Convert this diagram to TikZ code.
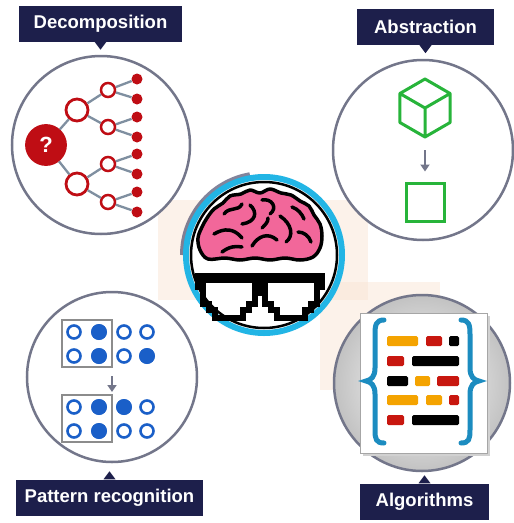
\documentclass[tikz,border=0pt]{standalone}
\usepackage{fontspec}
\setmainfont{Liberation Sans}
\usetikzlibrary{positioning,shapes,arrows.meta,calc}
\usepackage{xcolor}

\definecolor{navy}{HTML}{1D1F4B}
\definecolor{ringgray}{HTML}{73768A}
\definecolor{treeline}{HTML}{7F8FA0}
\definecolor{dred}{HTML}{BF0D14}
\definecolor{leafgreen}{HTML}{27B43A}
\definecolor{pblue}{HTML}{1A5FC8}
\definecolor{cyanring}{HTML}{22B5E5}
\definecolor{pinkbrain}{HTML}{F2679A}
\definecolor{orangebar}{HTML}{F4A300}
\definecolor{redbar}{HTML}{C8170F}
\definecolor{bracebl}{HTML}{1C8CC0}
\definecolor{peach}{HTML}{F9E3D2}

\tikzset{
	topic/.style={circle, draw=ringgray, line width=2.5pt, fill=white, inner sep=0pt},
	tag/.style={fill=navy, text=white, inner sep=0pt, minimum height=36pt,
		font=\bfseries\fontsize{18.5}{20}\selectfont},
	opendot/.style={circle, draw=pblue, line width=2.6pt, fill=white, inner sep=0pt, minimum size=13pt},
	fulldot/.style={circle, fill=pblue, inner sep=0pt, minimum size=16pt},
	bar/.style={rounded corners=1.5pt},
}

\begin{document}
\begin{tikzpicture}[x=1pt, y=-1pt]
		\useasboundingbox (0,0) rectangle (514,523);
		\fill[white] (0,0) rectangle (514,523);
		
		% faint bands behind the middle
		\fill[peach, opacity=.45] (158,200) rectangle (368,300);
		\fill[peach, opacity=.45] (320,282) rectangle (440,390);
		
		% the four topic circles
		\node[topic, minimum size=178pt] (dec) at (101,145) {};
		\node[topic, minimum size=180pt] (abs) at (423,150) {};
		\node[topic, minimum size=170pt] (pat) at (112,377) {};
		\node[topic, minimum size=176pt, shade, inner color=white, outer color=black!24] (alg) at (422,383) {};
		
		% labels
		\node[tag, minimum width=163pt] (dectag) at (100.5,23.5) {Decomposition};
		\node[tag, minimum width=137pt] (abstag) at (425.5,27) {Abstraction};
		\node[tag, minimum width=187pt] (pattag) at (109.5,497.5) {Pattern recognition};
		\node[tag, minimum width=129pt] (algtag) at (424.5,501.5) {Algorithms};
		\fill[navy] ($(dectag.south)+(-6,0)$) -- ($(dectag.south)+(0,8)$) -- ($(dectag.south)+(6,0)$) -- cycle;
		\fill[navy] ($(abstag.south)+(-6,0)$) -- ($(abstag.south)+(0,8)$) -- ($(abstag.south)+(6,0)$) -- cycle;
		\fill[navy] ($(pattag.north)+(-6,0)$) -- ($(pattag.north)+(0,-8)$) -- ($(pattag.north)+(6,0)$) -- cycle;
		\fill[navy] ($(algtag.north)+(-6,0)$) -- ($(algtag.north)+(0,-8)$) -- ($(algtag.north)+(6,0)$) -- cycle;
		
		% decomposition tree
		\begin{scope}[every node/.style={circle, draw=dred, line width=2.8pt, fill=white, inner sep=0pt}]
			\node[fill=dred, minimum size=39pt, text=white, font=\bfseries\fontsize{22}{22}\selectfont] (q) at (46,145) {?};
			\node[minimum size=22pt] (m1) at (77,110) {};
			\node[minimum size=22pt] (m2) at (77,184) {};
			\node[minimum size=14pt, line width=2.5pt] (s1) at (108,90) {};
			\node[minimum size=14pt, line width=2.5pt] (s2) at (108,127) {};
			\node[minimum size=14pt, line width=2.5pt] (s3) at (108,164) {};
			\node[minimum size=14pt, line width=2.5pt] (s4) at (108,202) {};
		\end{scope}
		\begin{scope}[every node/.style={circle, fill=dred, inner sep=0pt, minimum size=11pt}]
			\node (d1) at (137,79) {};
			\node (d2) at (137,99) {};
			\node (d3) at (137,117) {};
			\node (d4) at (137,137) {};
			\node (d5) at (137,154) {};
			\node (d6) at (137,174) {};
			\node (d7) at (137,192) {};
			\node (d8) at (137,212) {};
		\end{scope}
		\begin{scope}[every path/.style={draw=treeline, line width=2.3pt}]
			\path (q) edge (m1) edge (m2);
			\path (m1) edge (s1) edge (s2);
			\path (m2) edge (s3) edge (s4);
			\path (s1) edge (d1) edge (d2);
			\path (s2) edge (d3) edge (d4);
			\path (s3) edge (d5) edge (d6);
			\path (s4) edge (d7) edge (d8);
		\end{scope}
		
		% abstraction: cube to square (y runs downwards, so angles are negated)
		\node[minimum size=60pt, inner sep=0pt] (cube) at (425,108) {};
		\draw[leafgreen, line width=3pt, line join=round]
			(cube.center) +(-90:29) -- +(-150:29) -- +(-210:29) -- +(-270:29) -- +(-330:29) -- +(-30:29) -- cycle
			(cube.center) -- +(-150:29) (cube.center) -- +(-30:29) (cube.center) -- +(90:29);
		\node[draw=leafgreen, line width=3pt, minimum size=38pt, inner sep=0pt] (sq) at (425,202) {};
		\draw[ringgray, line width=2.5pt, -{Triangle[width=9pt,length=7pt]}, shorten <=12pt, shorten >=10pt] (cube) -- (sq);
		
		% pattern recognition dots
		\node[draw=black!45, line width=1.2pt, minimum width=50pt, minimum height=47pt, inner sep=0pt] (pbox1) at (87,343.5) {};
		\node[draw=black!45, line width=1.2pt, minimum width=50pt, minimum height=47pt, inner sep=0pt] (pbox2) at (87,418.5) {};
		\foreach \col/\x in {1/74,2/99,3/124,4/147}{
			\foreach \row/\y in {1/332,2/356,3/407,4/431}{
				\node[opendot] (p\row\col) at (\x,\y) {};
			}
		}
		\foreach \name in {p12,p22,p24,p32,p33,p42}{
			\node[fulldot] at (\name) {};
		}
		\coordinate (ptop) at (112,367);
		\coordinate (pbot) at (112,395);
		\draw[ringgray, line width=2.5pt, -{Triangle[width=9pt,length=7pt]}, shorten <=9pt, shorten >=3pt] (ptop) -- (pbot);
		
		% algorithms card
		\fill[black!18] (363,316) rectangle (490,456);
		\node[draw=black!35, fill=white, line width=.8pt, minimum width=127pt, minimum height=140pt, inner sep=0pt] (card) at (423.5,383) {};
		\draw[bracebl, line width=5pt, line cap=round]
			(384,320) .. controls (376,320) and (375,325) .. (375,334) -- (375,368)
			.. controls (375,377) and (371,380) .. (366,381)
			.. controls (371,382) and (375,385) .. (375,394) -- (375,430)
			.. controls (375,439) and (376,443) .. (384,443);
		\draw[bracebl, line width=5pt, line cap=round]
			(461,320) .. controls (469,320) and (470,325) .. (470,334) -- (470,368)
			.. controls (470,377) and (474,380) .. (479,381)
			.. controls (474,382) and (470,385) .. (470,394) -- (470,430)
			.. controls (470,439) and (469,443) .. (461,443);
		\fill[bar, orangebar] (387,336) rectangle (418,346);
		\fill[bar, redbar] (426,336) rectangle (442,346);
		\fill[bar, black] (449,336) rectangle (459,346);
		\fill[bar, redbar] (387,356) rectangle (404,366);
		\fill[bar, black] (412,356) rectangle (459,366);
		\fill[bar, black] (387,376) rectangle (408,386);
		\fill[bar, orangebar] (415,376) rectangle (430,386);
		\fill[bar, redbar] (437,376) rectangle (459,386);
		\fill[bar, orangebar] (387,395) rectangle (418,405);
		\fill[bar, orangebar] (426,395) rectangle (442,405);
		\fill[bar, redbar] (449,395) rectangle (459,405);
		\fill[bar, redbar] (387,415) rectangle (404,425);
		\fill[bar, black] (412,415) rectangle (459,425);
		
		% brain in the middle
		\draw[navy, line width=4pt, opacity=.55] (264,255) ++(180:82) arc[start angle=180, end angle=260, radius=82];
		\node[circle, draw=cyanring, line width=6pt, minimum size=156pt, inner sep=0pt] (ring) at (264,255) {};
		\node[circle, draw=black, fill=white, line width=2.5pt, minimum size=146pt, inner sep=0pt] (head) at (264,255) {};
		\draw[black, fill=pinkbrain, line width=3.5pt, line join=round] plot[smooth cycle, tension=.6] coordinates {
			(208,259) (200,250) (198,238) (202,227) (207,218) (214,209) (223,203) (230,196)
			(241,194) (250,190) (260,193) (270,189) (281,193) (291,195) (300,201) (309,206)
			(314,215) (320,224) (322,236) (320,248) (313,257) (300,260) (285,258) (270,260)
			(255,258) (240,260) (225,258)};
		\begin{scope}[every path/.style={draw=black, line width=3.5pt, line cap=round}]
			\path (224,214) .. controls (230,206) and (238,212) .. (242,204);
			\path (250,205) .. controls (258,212) and (256,222) .. (242,224);
			\path (262,200) .. controls (272,198) and (278,208) .. (270,214);
			\path (292,207) .. controls (298,209) and (302,214) .. (304,219);
			\path (280,216) .. controls (292,224) and (294,236) .. (286,242);
			\path (214,234) .. controls (224,228) and (234,228) .. (242,238);
			\path (252,246) .. controls (258,236) and (268,232) .. (277,240);
			\path (298,232) .. controls (304,232) and (309,236) .. (311,242);
			\path (222,252) .. controls (230,246) and (236,246) .. (242,247);
			\path (262,228) .. controls (266,224) and (268,222) .. (268,218);
		\end{scope}
		% pixel glasses
		\fill[black] (195,273) rectangle (325,283);
		\fill[black] (195,283) rectangle (201,290);
		\fill[black] (319,283) rectangle (325,290);
		\draw[black, line width=6pt, line join=miter]
			(203,283) -- (203,304) -- (209,304) -- (209,310) -- (215,310) -- (215,318)
			-- (243,318) -- (243,310) -- (249,310) -- (249,304) -- (255,304) -- (255,283);
		\draw[black, line width=6pt, line join=miter]
			(317,283) -- (317,304) -- (311,304) -- (311,310) -- (305,310) -- (305,318)
			-- (277,318) -- (277,310) -- (271,310) -- (271,304) -- (265,304) -- (265,283);
		\fill[black] (254,283) rectangle (266,296);
	\end{tikzpicture}
\end{document}
